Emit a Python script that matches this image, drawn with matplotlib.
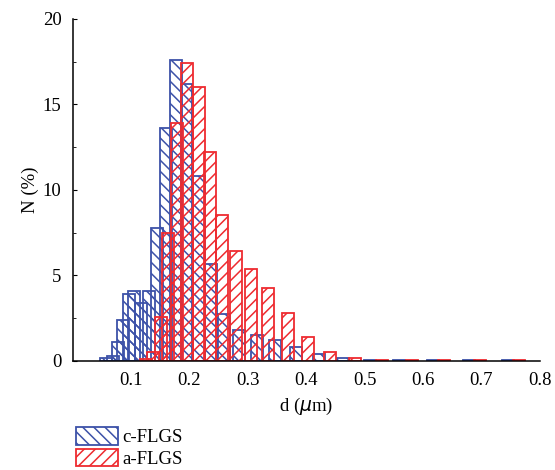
import matplotlib
matplotlib.use("Agg")
import matplotlib.pyplot as plt
from matplotlib.ticker import MultipleLocator

# bin centres (um) and number fraction (%) for both samples
c_d = [0.058, 0.0687, 0.0772, 0.0868, 0.0961, 0.1057, 0.117, 0.130, 0.144,
       0.160, 0.177, 0.195, 0.216, 0.237, 0.260, 0.285, 0.315, 0.347, 0.383,
       0.422, 0.463, 0.509, 0.559, 0.617, 0.679, 0.746]
c_n = [0.15, 0.3, 1.13, 2.4, 3.9, 4.07, 3.4, 4.07, 7.8,
       13.6, 17.6, 16.2, 10.8, 5.67, 2.77, 1.8, 1.5, 1.2, 0.8,
       0.4, 0.17, 0.08, 0.05, 0.05, 0.05, 0.05]

a_d = [0.126, 0.138, 0.1514, 0.1639, 0.1783, 0.1954, 0.2159, 0.2353, 0.2558,
       0.2798, 0.3055, 0.3346, 0.3683, 0.4026, 0.4408, 0.4836, 0.5298, 0.5812,
       0.636, 0.6976, 0.7644]
a_n = [0.1, 0.5, 2.55, 7.5, 13.9, 17.4, 16.0, 12.2, 8.55,
       6.45, 5.4, 4.25, 2.8, 1.43, 0.53, 0.17, 0.08, 0.05,
       0.05, 0.05, 0.05]

labels = ["c-FLGS", "a-FLGS"]
blue = "#3d52a8"
red = "#ee2b30"
bar_w = 0.0205

plt.rcParams["font.family"] = ["Liberation Serif", "DejaVu Serif"]
plt.rcParams["hatch.linewidth"] = 1.1

fig = plt.figure(figsize=(5.55, 4.7), dpi=100)
ax = fig.add_axes([0.1308, 0.232, 0.842, 0.7276])

ax.bar(c_d, c_n, width=bar_w, fill=False, edgecolor=blue, hatch="\\\\\\",
       linewidth=1.3, label=labels[0])
ax.bar(a_d, a_n, width=bar_w, fill=False, edgecolor=red, hatch="///",
       linewidth=1.3, label=labels[1])

ax.set_xlim(0, 0.8)
ax.set_ylim(0, 20)
ax.set_xticks([0.1, 0.2, 0.3, 0.4, 0.5, 0.6, 0.7, 0.8])
ax.set_xticklabels(["0.1", "0.2", "0.3", "0.4", "0.5", "0.6", "0.7", "0.8"])
ax.yaxis.set_major_locator(MultipleLocator(5))
ax.yaxis.set_minor_locator(MultipleLocator(2.5))
ax.tick_params(axis="both", which="both", direction="in", labelsize=13.5)
ax.tick_params(axis="y", which="major", length=3, pad=8)
ax.tick_params(axis="y", which="minor", length=2)
ax.tick_params(axis="x", length=0, pad=8)

for s in ["top", "right"]:
    ax.spines[s].set_visible(False)
for s in ["left", "bottom"]:
    ax.spines[s].set_linewidth(1.1)

ax.set_xlabel("d ($\\mu$m)", fontsize=13.5, labelpad=5)
ax.set_ylabel("N (%)", fontsize=13.5, labelpad=3)

h, l = ax.get_legend_handles_labels()
fig.legend(h, l, loc="upper left", bbox_to_anchor=(0.137, 0.091),
           frameon=False, fontsize=13.5, handlelength=2.25, handleheight=1.05,
           labelspacing=0.12, handletextpad=0.2, borderpad=0, borderaxespad=0)

fig.savefig("out.png", dpi=100)
